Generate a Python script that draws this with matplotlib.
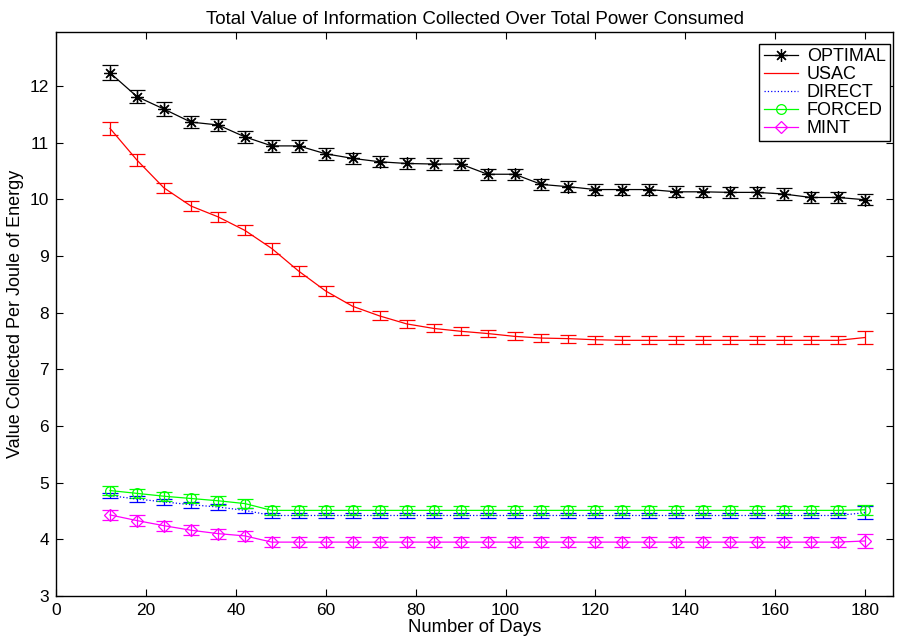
import matplotlib
matplotlib.use("Agg")
import matplotlib.pyplot as plt

plt.rcParams['font.family'] = ['Liberation Sans', 'DejaVu Sans']

# Data
days = [12, 18, 24, 30, 36, 42, 48, 54, 60, 66, 72, 78, 84, 90, 96,
        102, 108, 114, 120, 126, 132, 138, 144, 150, 156, 162, 168, 174, 180]

optimal = [12.23, 11.81, 11.59, 11.36, 11.31, 11.10, 10.94, 10.94, 10.80, 10.72,
           10.66, 10.63, 10.62, 10.62, 10.44, 10.44, 10.26, 10.22, 10.17, 10.17,
           10.17, 10.13, 10.13, 10.12, 10.12, 10.09, 10.03, 10.03, 9.99]
optimal_err = [0.13, 0.12, 0.12, 0.11, 0.11, 0.11, 0.11, 0.11, 0.10, 0.10,
               0.10, 0.10, 0.10, 0.10, 0.10, 0.10, 0.10, 0.10, 0.10, 0.10,
               0.10, 0.10, 0.10, 0.10, 0.10, 0.10, 0.10, 0.10, 0.10]

usac = [11.25, 10.69, 10.20, 9.88, 9.69, 9.45, 9.13, 8.73, 8.38, 8.11,
        7.94, 7.80, 7.72, 7.67, 7.63, 7.58, 7.55, 7.54, 7.52, 7.51,
        7.51, 7.51, 7.51, 7.51, 7.51, 7.51, 7.51, 7.51, 7.56]
usac_err = [0.12, 0.11, 0.09, 0.09, 0.09, 0.09, 0.09, 0.09, 0.09, 0.08,
            0.08, 0.07, 0.07, 0.07, 0.07, 0.07, 0.07, 0.07, 0.07, 0.07,
            0.07, 0.07, 0.07, 0.07, 0.07, 0.07, 0.07, 0.07, 0.12]

direct = [4.77, 4.71, 4.66, 4.61, 4.57, 4.51, 4.42, 4.42, 4.42, 4.42,
          4.42, 4.42, 4.42, 4.42, 4.42, 4.42, 4.42, 4.42, 4.42, 4.42,
          4.42, 4.42, 4.42, 4.42, 4.42, 4.42, 4.42, 4.42, 4.47]
direct_err = [0.05, 0.05, 0.05, 0.05, 0.05, 0.05, 0.05, 0.05, 0.05, 0.05,
              0.05, 0.05, 0.05, 0.05, 0.05, 0.05, 0.05, 0.05, 0.05, 0.05,
              0.05, 0.05, 0.05, 0.05, 0.05, 0.05, 0.05, 0.05, 0.12]

forced = [4.86, 4.81, 4.76, 4.72, 4.68, 4.63, 4.51, 4.51, 4.51, 4.51,
          4.51, 4.51, 4.51, 4.51, 4.51, 4.51, 4.51, 4.51, 4.51, 4.51,
          4.51, 4.51, 4.51, 4.51, 4.51, 4.51, 4.51, 4.51, 4.52]
forced_err = [0.08, 0.08, 0.08, 0.08, 0.08, 0.08, 0.08, 0.08, 0.08, 0.08,
              0.08, 0.08, 0.08, 0.08, 0.08, 0.08, 0.08, 0.08, 0.08, 0.08,
              0.08, 0.08, 0.08, 0.08, 0.08, 0.08, 0.08, 0.08, 0.09]

mint = [4.43, 4.33, 4.24, 4.16, 4.10, 4.06, 3.95, 3.95, 3.95, 3.95,
        3.95, 3.95, 3.95, 3.95, 3.95, 3.95, 3.95, 3.95, 3.95, 3.95,
        3.95, 3.95, 3.95, 3.95, 3.95, 3.95, 3.95, 3.95, 3.97]
mint_err = [0.09, 0.09, 0.09, 0.09, 0.09, 0.09, 0.09, 0.09, 0.09, 0.09,
            0.09, 0.09, 0.09, 0.09, 0.09, 0.09, 0.09, 0.09, 0.09, 0.09,
            0.09, 0.09, 0.09, 0.09, 0.09, 0.09, 0.09, 0.09, 0.12]

fig = plt.figure(figsize=(9.08, 6.42), dpi=100)
ax = fig.add_axes([0.0617, 0.0717, 0.9218, 0.8785])

# matlab-like styles: '-*', '-', ':', '-o', '-d'
series = [
    ("OPTIMAL", optimal, optimal_err, "#000000", "-", (8, 2, 0), 9),
    ("USAC", usac, usac_err, "#ff0000", "-", None, 0),
    ("DIRECT", direct, direct_err, "#0000ff", ":", None, 0),
    ("FORCED", forced, forced_err, "#00ff00", "-", "o", 7),
    ("MINT", mint, mint_err, "#ff00ff", "-", "D", 6.5),
]

for label, vals, err, color, ls, mk, ms in series:
    ax.errorbar(days, vals, yerr=err, color=color, linestyle=ls, linewidth=0.9,
                marker=mk, markersize=ms, markerfacecolor='none',
                markeredgecolor=color, markeredgewidth=0.9,
                elinewidth=0.9, capsize=5.6, capthick=0.9, label=label)

ax.set_xlim(0, 186.2)
ax.set_ylim(3, 12.95)
ax.set_xticks([0, 20, 40, 60, 80, 100, 120, 140, 160, 180])
ax.set_yticks([3, 4, 5, 6, 7, 8, 9, 10, 11, 12])
ax.tick_params(direction='in', length=5, width=0.8, top=True, right=True,
               labelsize=12.5, pad=5)
for s in ax.spines.values():
    s.set_linewidth(1.0)

ax.set_title("Total Value of Information Collected Over Total Power Consumed",
             fontsize=13.5, pad=6)
ax.set_xlabel("Number of Days", fontsize=13.3, labelpad=1)
ax.set_ylabel("Value Collected Per Joule of Energy", fontsize=13, labelpad=4)

handles, labels = ax.get_legend_handles_labels()
handles = [h[0] for h in handles]
leg = ax.legend(handles, labels, loc='upper left', bbox_to_anchor=(0.84, 0.979),
                borderaxespad=0, fontsize=13, numpoints=1, fancybox=False,
                framealpha=1, edgecolor='black', handlelength=1.9,
                handletextpad=0.5, labelspacing=0.05, borderpad=0.25)
leg.get_frame().set_linewidth(1.0)

fig.savefig("out.png", dpi=100)
